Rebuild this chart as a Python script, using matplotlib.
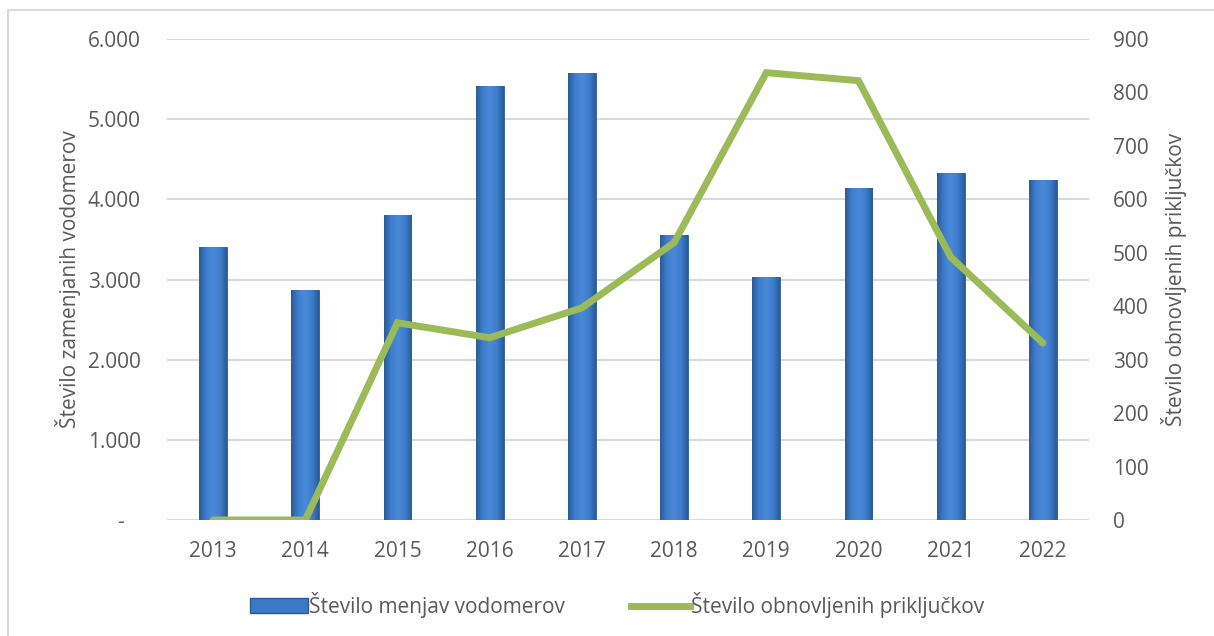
import matplotlib
matplotlib.use("Agg")
import matplotlib.pyplot as plt
import numpy as np
from matplotlib.patches import Rectangle
from matplotlib.lines import Line2D
from matplotlib.colors import LinearSegmentedColormap

years = ["2013", "2014", "2015", "2016", "2017", "2018", "2019", "2020", "2021", "2022"]
menjave_vodomerov = [3400, 2870, 3800, 5410, 5570, 3555, 3030, 4140, 4330, 4240]
obnovljeni_prikljucki = [0, 0, 369, 341, 397, 519, 837, 822, 492, 331]
left_ticks = [0, 1000, 2000, 3000, 4000, 5000, 6000]
left_ticklabels = ["-   ", "1.000", "2.000", "3.000", "4.000", "5.000", "6.000"]
right_ticks = [0, 100, 200, 300, 400, 500, 600, 700, 800, 900]

plt.rcParams['font.family'] = ['Open Sans', 'DejaVu Sans']
txt = '#595959'
fs = 15

fig = plt.figure(figsize=(12.14, 6.36), dpi=100)
fig.patches.append(Rectangle((8/1214, -0.1), 1.2, 1 - 10/636 + 0.1, transform=fig.transFigure,
                             fill=False, edgecolor='#d9d9d9', linewidth=1.5))
ax = fig.add_axes([167/1214, 1 - 520/636, (1089 - 167)/1214, (520 - 39)/636])
x = np.arange(len(years))
w = 0.3

cmap = LinearSegmentedColormap.from_list('bar', ['#2a5b99', '#3f7ecd', '#4a8ad9', '#3f7ecd', '#2a5b99'])
grad = np.linspace(0, 1, 64).reshape(1, -1)
bars = ax.bar(x, menjave_vodomerov, width=w, color='#3b78c6', edgecolor='#2a5a95', linewidth=0.6, zorder=2)
for b in bars:
    bx, bw, bh = b.get_x(), b.get_width(), b.get_height()
    im = ax.imshow(grad, cmap=cmap, aspect='auto', extent=(bx, bx + bw, 0, bh), zorder=2.1)
    im.set_clip_path(b)

ax.set_xlim(-0.5, len(years) - 0.5)
ax.set_ylim(0, 6000)
ax.set_yticks(left_ticks)
ax.set_yticklabels(left_ticklabels)
ax.set_xticks(x)
ax.set_xticklabels(years)
ax.grid(axis='y', color='#d9d9d9', linewidth=1.5, zorder=0)
ax.set_axisbelow(True)
for s in ax.spines.values():
    s.set_visible(False)
ax.tick_params(length=0, labelsize=fs, colors=txt)
ax.tick_params(axis='x', pad=15)
ax.tick_params(axis='y', pad=19)
ax.set_ylabel("Število zamenjanih vodomerov", fontsize=fs, color=txt, labelpad=5)

ax2 = ax.twinx()
ax2.plot(x, obnovljeni_prikljucki, color='#9bbb59', linewidth=5, solid_capstyle='round',
         solid_joinstyle='miter', zorder=3)
ax2.set_ylim(0, 900)
ax2.set_yticks(right_ticks)
for s in ax2.spines.values():
    s.set_visible(False)
ax2.tick_params(length=0, labelsize=fs, colors=txt, pad=17)
ax2.set_ylabel("Število obnovljenih priključkov", fontsize=fs, color=txt, labelpad=9)

handles = [Rectangle((0, 0), 1, 1, facecolor='#3b78c6', edgecolor='#2a5a95'),
           Line2D([0], [0], color='#9bbb59', linewidth=5)]
fig.legend(handles, ["Število menjav vodomerov", "Število obnovljenih priključkov"],
           loc='center', bbox_to_anchor=(0.508, 1 - 605/636), ncol=2, frameon=False,
           fontsize=fs, labelcolor=txt, handlelength=2.8, handletextpad=0.05, columnspacing=3.2)

fig.savefig("out.png", dpi=100)
